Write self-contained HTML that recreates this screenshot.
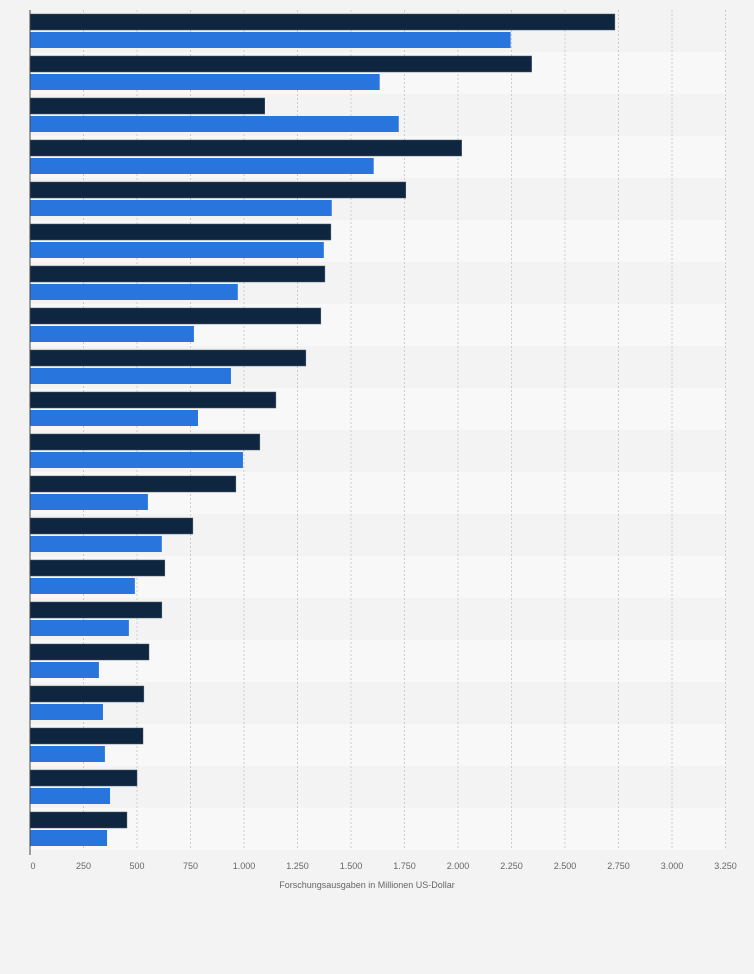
<!DOCTYPE html>
<html><head><meta charset="utf-8"><style>
body{margin:0;background:#f3f3f3;font-family:"Liberation Sans",sans-serif}
</style></head><body>
<svg id="chart" width="754" height="969" xmlns="http://www.w3.org/2000/svg">
<rect width="754" height="969" fill="#f3f3f3"/>
<g id="g"></g>
<text x="367" y="888" font-size="9" fill="#666" text-anchor="middle">Forschungsausgaben in Millionen US-Dollar</text>
</svg>
<script>
const seriesA=[2733,2344,1097,2017,1756,1406,1378,1359,1289,1149,1074,962,761,630,616,556,532,528,500,453];
const seriesB=[2246,1634,1723,1606,1410,1373,971,766,939,785,995,551,616,490,462,322,341,350,374,360];
const ticks=[0,250,500,750,1000,1250,1500,1750,2000,2250,2500,2750,3000,3250];
const tickLabels=["0","250","500","750","1.000","1.250","1.500","1.750","2.000","2.250","2.500","2.750","3.000","3.250"];
const NS="http://www.w3.org/2000/svg",g=document.getElementById('g');
const x0=30,x1=725.5,yTop=10,yBottom=850,maxV=3250;
const xs=v=>x0+v/maxV*(x1-x0);
const rowH=(yBottom-yTop)/seriesA.length;
function mk(t,a){const e=document.createElementNS(NS,t);for(const k in a)e.setAttribute(k,a[k]);g.appendChild(e);return e;}
seriesA.forEach((v,i)=>{const r=mk('rect',{x:x0,y:yTop+i*rowH,width:x1-x0,height:rowH,fill:i%2?'#f8f8f8':'#f3f3f3'});

});
ticks.forEach((t,i)=>{if(i>0){const l=mk('line',{x1:xs(t),x2:xs(t),y1:yTop,y2:yBottom,stroke:'#ccc','stroke-dasharray':'2,2','stroke-width':1});

}
const tx=mk('text',{x:xs(t)+(i==0?3:0),y:869,'font-size':9,fill:'#666','text-anchor':'middle'});tx.textContent=tickLabels[i];

});
seriesA.forEach((v,i)=>{const y=yTop+i*rowH;
const a=mk('rect',{x:x0,y:y+4,width:xs(v)-x0,height:16,fill:'#0f2640',stroke:'#4a5a6a','stroke-width':0.5});


const b=mk('rect',{x:x0,y:y+22,width:xs(seriesB[i])-x0,height:16,fill:'#2876dd'});

});
const ax=mk('line',{x1:x0,x2:x0,y1:yTop,y2:yBottom+5,stroke:'#444','stroke-width':1});


</script>
</body></html>
